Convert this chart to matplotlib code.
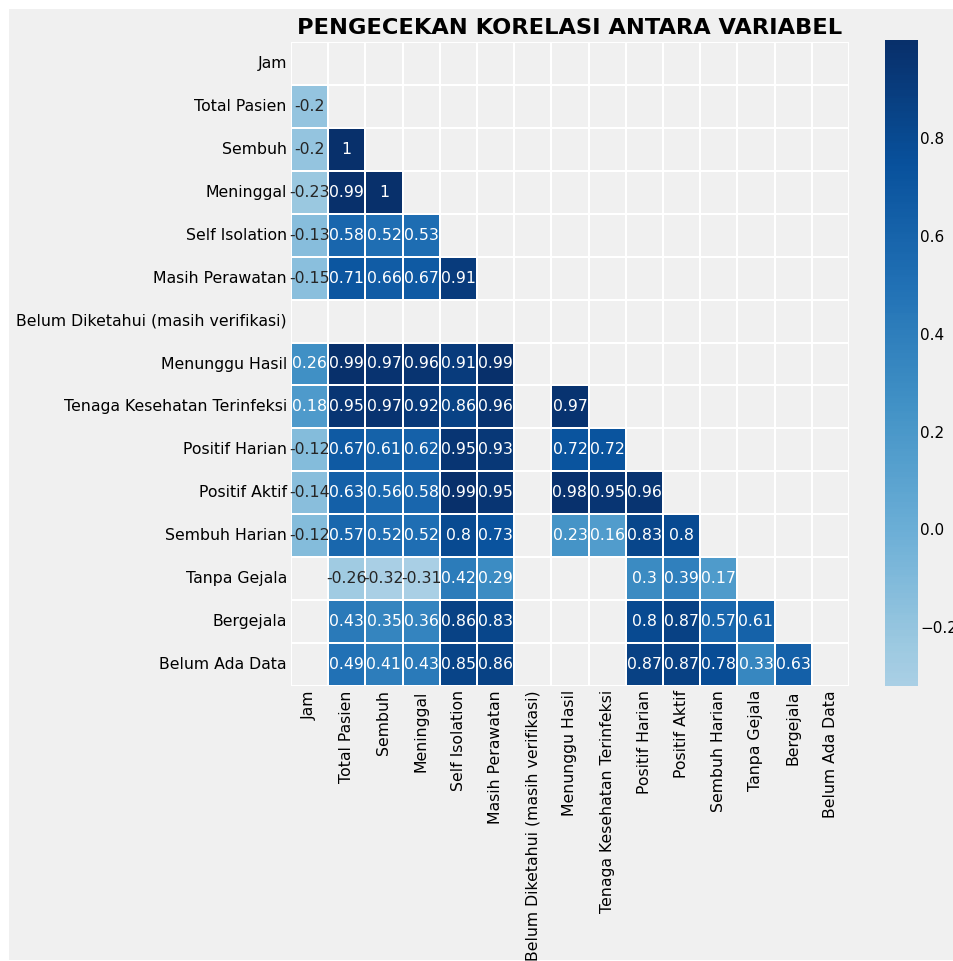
import numpy as np
import pandas as pd
import matplotlib
matplotlib.use("Agg")
import matplotlib.pyplot as plt
from matplotlib.patches import Rectangle
import seaborn as sns

plt.style.use("fivethirtyeight")
plt.rcParams["font.family"] = ["DejaVu Sans"]

LABELS = [
    "Jam", "Total Pasien", "Sembuh", "Meninggal", "Self Isolation",
    "Masih Perawatan", "Belum Diketahui (masih verifikasi)", "Menunggu Hasil",
    "Tenaga Kesehatan Terinfeksi", "Positif Harian", "Positif Aktif",
    "Sembuh Harian", "Tanpa Gejala", "Bergejala", "Belum Ada Data",
]

nan = np.nan
# lower triangle rows (values left of the diagonal)
ROW_TOTAL_PASIEN = [-0.2]
ROW_SEMBUH = [-0.2, 1.0]
ROW_MENINGGAL = [-0.23, 0.99, 1.0]
ROW_SELF_ISOLATION = [-0.13, 0.58, 0.52, 0.53]
ROW_MASIH_PERAWATAN = [-0.15, 0.71, 0.66, 0.67, 0.91]
ROW_BELUM_DIKETAHUI = [nan, nan, nan, nan, nan, nan]
ROW_MENUNGGU_HASIL = [0.26, 0.99, 0.97, 0.96, 0.91, 0.99, nan]
ROW_TENAGA_KES = [0.18, 0.95, 0.97, 0.92, 0.86, 0.96, nan, 0.97]
ROW_POSITIF_HARIAN = [-0.12, 0.67, 0.61, 0.62, 0.95, 0.93, nan, 0.72, 0.72]
ROW_POSITIF_AKTIF = [-0.14, 0.63, 0.56, 0.58, 0.99, 0.95, nan, 0.98, 0.95, 0.96]
ROW_SEMBUH_HARIAN = [-0.12, 0.57, 0.52, 0.52, 0.8, 0.73, nan, 0.23, 0.16, 0.83, 0.8]
ROW_TANPA_GEJALA = [nan, -0.26, -0.32, -0.31, 0.42, 0.29, nan, nan, nan, 0.3, 0.39, 0.17]
ROW_BERGEJALA = [nan, 0.43, 0.35, 0.36, 0.86, 0.83, nan, nan, nan, 0.8, 0.87, 0.57, 0.61]
ROW_BELUM_ADA_DATA = [nan, 0.49, 0.41, 0.43, 0.85, 0.86, nan, nan, nan, 0.87, 0.87, 0.78, 0.33, 0.63]

rows = [[], ROW_TOTAL_PASIEN, ROW_SEMBUH, ROW_MENINGGAL, ROW_SELF_ISOLATION,
        ROW_MASIH_PERAWATAN, ROW_BELUM_DIKETAHUI, ROW_MENUNGGU_HASIL, ROW_TENAGA_KES,
        ROW_POSITIF_HARIAN, ROW_POSITIF_AKTIF, ROW_SEMBUH_HARIAN, ROW_TANPA_GEJALA,
        ROW_BERGEJALA, ROW_BELUM_ADA_DATA]

n = len(LABELS)
corr = np.full((n, n), nan)
for i, r in enumerate(rows):
    for j, v in enumerate(r):
        corr[i, j] = v
        corr[j, i] = v
np.fill_diagonal(corr, 1.0)
corr = pd.DataFrame(corr, index=LABELS, columns=LABELS)

mask = np.triu(np.ones_like(corr, dtype=bool))

W, H = 954, 961
fig = plt.figure(figsize=(W / 100, H / 100), dpi=100)
fig.patch.set_facecolor("white")
fig.patches.append(Rectangle((9 / W, 1 / H), 1, 1 - 10 / H, transform=fig.transFigure,
                             facecolor="#f0f0f0", edgecolor="none", zorder=-1))

ax = fig.add_axes([291 / W, 1 - 686 / H, (849 - 291) / W, (686 - 42) / H])
cax = fig.add_axes([885 / W, 1 - 686 / H, 33 / W, (686 - 40) / H])

sns.heatmap(corr, mask=mask, annot=True, cmap="Blues", center=0,
            linewidths=1.2, linecolor="white", ax=ax, cbar_ax=cax,
            annot_kws={"fontsize": 11.3})

ax.grid(False)
cax.grid(False)
ax.set_facecolor("#f0f0f0")
ax.tick_params(axis="both", labelsize=11.3, length=0, pad=3)
ax.set_xticklabels(ax.get_xticklabels(), rotation=90)
ax.set_yticklabels(ax.get_yticklabels(), rotation=0)
ax.set_title("PENGECEKAN KORELASI ANTARA VARIABEL", fontsize=16.2,
             fontweight="bold", pad=6)

cax.tick_params(labelsize=11, length=0, pad=1.5)
cax.set_yticks([-0.2, 0.0, 0.2, 0.4, 0.6, 0.8])
for s in cax.spines.values():
    s.set_visible(False)

fig.savefig("out.png", dpi=100, facecolor="white")
